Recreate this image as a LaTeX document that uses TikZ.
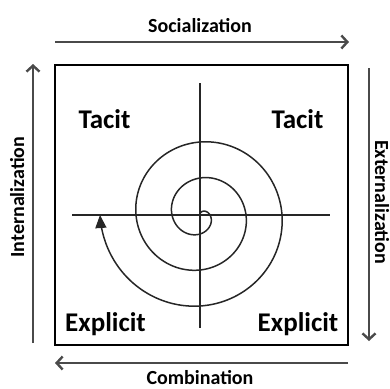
\documentclass[tikz,border=0pt]{standalone}
\usepackage{fontspec}
\setmainfont{Carlito}
\usetikzlibrary{arrows.meta}
\definecolor{arrgray}{HTML}{4A4A4A}
\tikzset{
  flow/.style={draw=arrgray, line width=2.6pt, -{Straight Barb[length=6pt,width=13pt,line width=2.4pt]}},
  lbl/.style={font=\bfseries\fontsize{20}{22}\selectfont, inner sep=0pt, anchor=base},
  quad/.style={font=\bfseries\fontsize{27}{30}\selectfont, inner sep=0pt, anchor=base},
  frame/.style={draw=black, line width=2pt},
  axis/.style={draw=black!85, line width=1.3pt},
  spiral/.style={draw=black!85, line width=1.5pt, -{Triangle[length=13pt,width=11pt]}}
}
\begin{document}
\begin{tikzpicture}[x=1pt, y=-1pt]
\useasboundingbox (0,0) rectangle (390,388);
% frame
\node[frame, minimum width=293pt, minimum height=280pt, inner sep=0pt] (box) at (201.5,205) {};
% outer flow arrows
\coordinate (sA) at (55,42);  \coordinate (sB) at (349,42);
\coordinate (cA) at (348,363); \coordinate (cB) at (55,363);
\coordinate (iA) at (33,343); \coordinate (iB) at (33,64);
\coordinate (eA) at (369,68); \coordinate (eB) at (369,341);
\draw[flow] (sA) -- (sB);
\draw[flow] (cA) -- (cB);
\draw[flow] (iA) -- (iB);
\draw[flow] (eA) -- (eB);
\node[lbl] (soc) at (200,32) {Socialization};
\node[lbl] (com) at (200,384) {Combination};
\node[lbl, rotate=90] (int) at (24,197) {Internalization};
\node[lbl, rotate=-90] (ext) at (375,202) {Externalization};
% quadrant labels
\node[quad] (t1) at (104.5,128) {Tacit};
\node[quad] (t2) at (297.5,128) {Tacit};
\node[quad] (e1) at (105.5,331) {Explicit};
\node[quad] (e2) at (298,331) {Explicit};
% axes
\coordinate (vT) at (200,83); \coordinate (vB) at (200,328);
\coordinate (hL) at (72,215); \coordinate (hR) at (330,215);
\draw[axis] (vT) -- (vB);
\draw[axis] (hL) -- (hR);
% spiral
\draw[spiral] plot[domain=100:-900, samples=500, variable=\t, smooth]
  ({200+(100-\t)/10*cos(\t)}, {215-(100-\t)/10*sin(\t)});
\end{tikzpicture}
\end{document}
